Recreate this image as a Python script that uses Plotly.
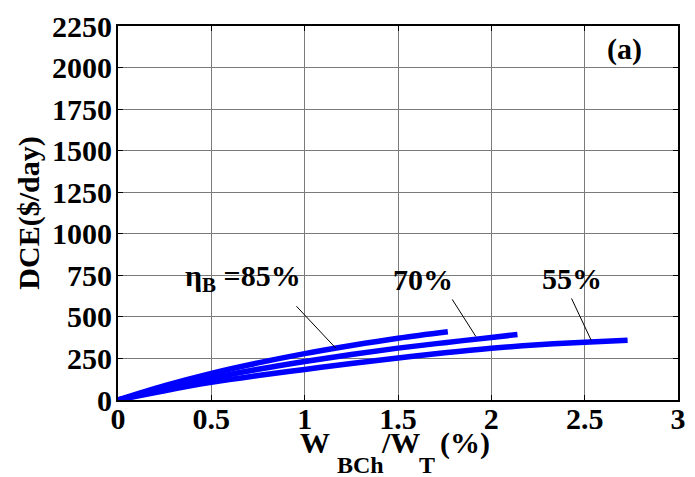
import plotly.graph_objects as go

# Data
x85 = [0, 0.25, 0.5, 0.75, 1.0, 1.25, 1.5, 1.767]
y85 = [0, 86, 160, 223, 279, 328, 372, 411]
x70 = [0, 0.25, 0.5, 0.75, 1.0, 1.25, 1.5, 1.75, 2.0, 2.14]
y70 = [0, 71, 132, 185, 232, 274, 312, 345, 376, 394]
x55 = [0, 0.25, 0.5, 0.75, 1.0, 1.25, 1.5, 1.75, 2.0, 2.25, 2.5, 2.73]
y55 = [0, 56, 106, 147, 184, 220, 253, 284, 311, 332, 348, 360]

y_ticks = [0, 250, 500, 750, 1000, 1250, 1500, 1750, 2000, 2250]
x_ticks = [0, 0.5, 1, 1.5, 2, 2.5, 3]
x_ticklabels = ["0", "0.5", "1", "1.5", "2", "2.5", "3"]

FONT = "Liberation Serif"
BLUE = "#0000ff"

# plot-area geometry (pixels) used to place annotations
L, R, T, B = 118, 686, 17, 400
W, H = 695, 477


def px(xp):
    return (xp - L) / (R - L)


def py(yp):
    return (B - yp) / (B - T)


fig = go.Figure()
for xs, ys, name in [(x85, y85, "85%"), (x70, y70, "70%"), (x55, y55, "55%")]:
    fig.add_trace(go.Scatter(x=xs, y=ys, mode="lines", name=name,
                             line=dict(color=BLUE, width=5.5, shape="spline"),
                             showlegend=False))

# pointer lines (paper coordinates)
for (x0, y0, x1, y1) in [(299, 304, 339, 347), (457, 297, 481, 335), (578, 296, 598, 339)]:
    fig.add_shape(type="line", x0=px(x0), y0=py(y0), x1=px(x1), y1=py(y1),
                  xref="paper", yref="paper", line=dict(color="black", width=1))

tf = dict(family=FONT, size=30, color="black")
for text, cx, cy in [("<b>η<sub>B</sub> =85%</b>", 245, 275), ("<b>70%</b>", 427, 276.5),
                     ("<b>55%</b>", 578, 275.5), ("<b>(a)</b>", 632, 41)]:
    fig.add_annotation(x=px(cx), y=py(cy), xref="paper", yref="paper",
                       xanchor="center", yanchor="middle",
                       text=text, showarrow=False, font=tf)

# x-axis title built from pieces (large subscript offset as in the reference)
main_y = py(444)
sub_y = py(467)
for text, xl, yy, sz in [("W", 302, main_y, 30), ("BCh", 339, sub_y, 24), ("/W", 384, main_y, 30),
                         ("T", 422, sub_y, 24), ("(%)", 444, main_y, 30)]:
    fig.add_annotation(x=px(xl), y=yy, xref="paper", yref="paper", xanchor="left", yanchor="middle",
                       text=f"<b>{text}</b>", showarrow=False, borderpad=0,
                       font=dict(family=FONT, size=sz, color="black"))

fig.update_layout(
    width=W, height=H,
    margin=dict(l=L, r=W - R, t=T, b=H - B),
    paper_bgcolor="white", plot_bgcolor="white",
    font=dict(family=FONT, size=30, color="black"),
    xaxis=dict(range=[0, 3], tickvals=x_ticks, ticktext=[f"<b>{t}</b>" for t in x_ticklabels],
               showgrid=True, gridcolor="#7a7a7a", gridwidth=1,
               showline=True, linecolor="black", linewidth=2, mirror="ticks",
               ticks="inside", ticklen=5, tickcolor="black", zeroline=False,
               ticklabelstandoff=-9,
               tickfont=dict(family=FONT, size=30)),
    yaxis=dict(range=[0, 2250], tickvals=y_ticks, ticktext=[f"<b>{t}</b>" for t in y_ticks],
               showgrid=True, gridcolor="#7a7a7a", gridwidth=1,
               showline=True, linecolor="black", linewidth=2, mirror="ticks",
               ticks="inside", ticklen=5, tickcolor="black", zeroline=False,
               ticklabelstandoff=-2,
               tickfont=dict(family=FONT, size=30),
               title=dict(text="<b>DCE($/day)</b>", standoff=4,
                          font=dict(family=FONT, size=30))),
)

fig.write_html("out.html")
